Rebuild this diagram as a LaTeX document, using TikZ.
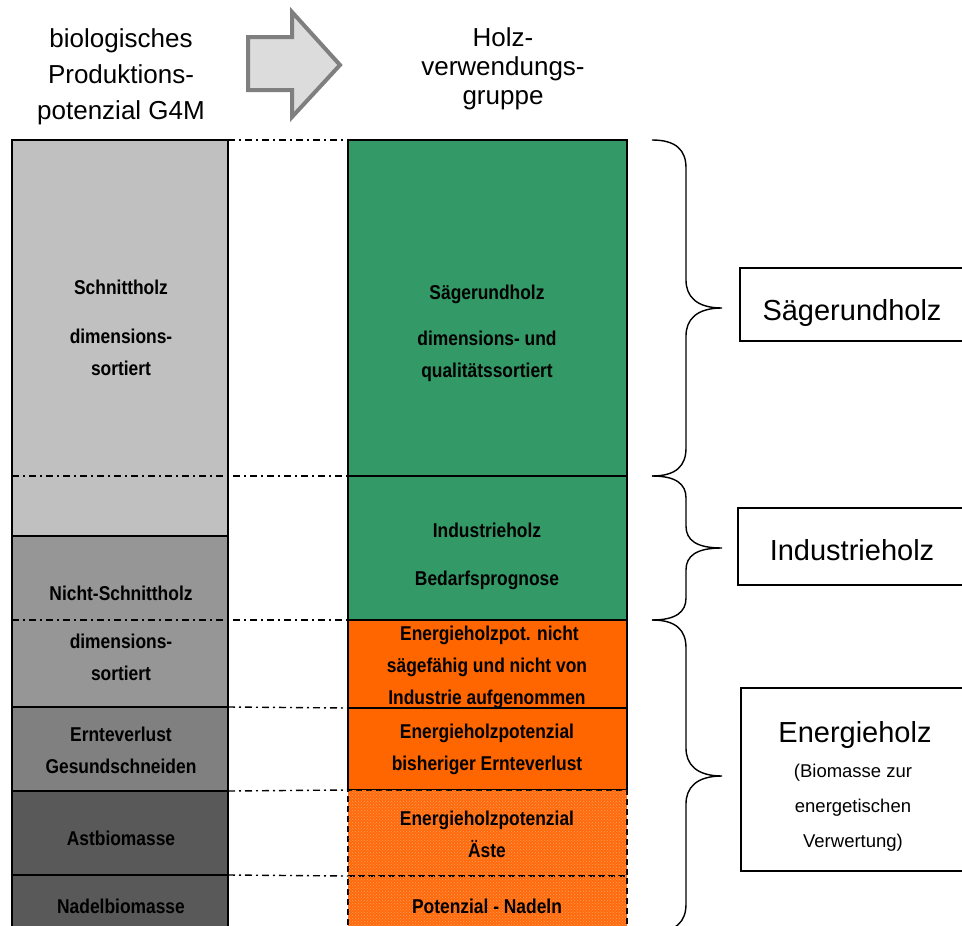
\documentclass[tikz,border=0pt]{standalone}
\usepackage{fontspec}
\setmainfont{Liberation Sans}
\newfontfamily\cellfont[FakeStretch=0.87]{Liberation Sans}
\usetikzlibrary{patterns}

\definecolor{schnittgrey}{HTML}{C0C0C0}
\definecolor{nichtgrey}{HTML}{969696}
\definecolor{verlustgrey}{HTML}{808080}
\definecolor{biogrey}{HTML}{595959}
\definecolor{saegegreen}{HTML}{339966}
\definecolor{energyorange}{HTML}{FF6600}
\definecolor{potorange}{HTML}{FF6A0C}
\definecolor{potdots}{HTML}{FFA060}
\definecolor{arrowfill}{HTML}{DCDCDC}
\definecolor{arrowline}{HTML}{7F7F7F}

\begin{document}
\begin{tikzpicture}[x=1pt,y=1pt,yscale=-1,
  lcell/.style={draw=black,line width=1.4pt,inner sep=0pt,outer sep=0pt,minimum width=216pt},
  rcell/.style={draw=black,line width=1.4pt,inner sep=0pt,outer sep=0pt,minimum width=279pt},
  potcell/.style={rcell,fill=potorange,line width=1.6pt,dash pattern=on 6pt off 4pt,postaction={pattern=crosshatch dots,pattern color=potdots}},
  celltext/.style={anchor=base,align=center,inner sep=0pt,font=\cellfont\bfseries\fontsize{20}{32}\selectfont},
  headtext/.style={anchor=base,align=center,inner sep=0pt},
  guide/.style={line width=1.4pt,dash pattern=on 7pt off 4pt on 2pt off 4pt},
  bracket/.style={line width=1.4pt},
  sidebox/.style={line width=1.4pt}]
\useasboundingbox (0,0) rectangle (962,926);
\clip (0,0) rectangle (962,926);

%Shape: Block Arrow
\draw [draw=arrowline,fill=arrowfill,line width=4pt,line join=miter] (248,37) -- (292,37) -- (292,12) -- (340,65) -- (292,117) -- (292,90) -- (248,90) -- cycle ;

% Text Node
\node [headtext,font=\fontsize{26}{36}\selectfont] (hdbio) at (121,119) {biologisches\\Produktions-\\potenzial G4M};
% Text Node
\node [headtext,font=\fontsize{26}{29}\selectfont] (hdholz) at (503,104) {Holz-\\verwendungs-\\gruppe};

%Shape: left column
\node [lcell,fill=schnittgrey,minimum height=396pt] (ls1) at (120,338) {};
\node [lcell,fill=nichtgrey,minimum height=171pt] (ls2) at (120,621.5) {};
\node [lcell,fill=verlustgrey,minimum height=84pt] (ls3) at (120,749) {};
\node [lcell,fill=biogrey,minimum height=84pt] (ls4) at (120,833) {};
\node [lcell,fill=biogrey,minimum height=70pt] (ls5) at (120,910) {};

%Shape: right column
\node [rcell,fill=saegegreen,minimum height=336pt] (rs1) at (487.5,308) {};
\node [rcell,fill=saegegreen,minimum height=144pt] (rs2) at (487.5,548) {};
\node [rcell,fill=energyorange,minimum height=88pt] (rs3) at (487.5,664) {};
\node [rcell,fill=energyorange,minimum height=82pt] (rs4) at (487.5,749) {};
\node [potcell,minimum height=86pt] (rs5) at (487.5,833) {};
\node [potcell,minimum height=69pt] (rs6) at (487.5,910.5) {};

%Straight Lines
\draw [guide] (ls1.north east) -- (rs1.north west) ;
\draw [guide] (ls1.west |- rs1.south) -- (rs1.south west) ;
\draw [guide] (ls2.west |- rs2.south) -- (rs2.south west) ;
\draw [guide] (ls3.north east) -- (rs4.north west) ;
\draw [guide] (ls4.north east) -- (rs5.north west) ;
\draw [guide] (ls5.north east) -- (rs6.north west) ;

% Text Node
\node [celltext] (tschnitt) at (121,375) {Schnittholz\\[17pt]dimensions-\\sortiert};
% Text Node
\node [celltext] (tnicht) at (121,600) {Nicht-Schnittholz};
% Text Node
\node [celltext] (tdim) at (121,680) {dimensions-\\sortiert};
% Text Node
\node [celltext] (tverlust) at (121,773) {Ernteverlust\\Gesundschneiden};
% Text Node
\node [celltext] (tast) at (121,845) {Astbiomasse};
% Text Node
\node [celltext] (tnadel) at (121,913) {Nadelbiomasse};

% Text Node
\node [celltext] (tsaege) at (487,377) {Sägerundholz\\[14pt]dimensions- und\\qualitätssortiert};
% Text Node
\node [celltext] (tind) at (487,585) {Industrieholz\\[16pt]Bedarfsprognose};
% Text Node
\node [celltext] (tenpot) at (487,704) {\ Energieholzpot. nicht\\sägefähig und nicht von\\Industrie aufgenommen};
% Text Node
\node [celltext] (tenverl) at (487,770) {Energieholzpotenzial\\bisheriger Ernteverlust};
% Text Node
\node [celltext] (taeste) at (487,857) {Energieholzpotenzial\\Äste};
% Text Node
\node [celltext] (tnadeln) at (487,913) {Potenzial - Nadeln};

%Curve Lines
\draw [bracket] (652,140) .. controls (676,140) and (686,150) .. (686,168) -- (686,280) .. controls (686,296) and (696,308) .. (722,308) .. controls (696,308) and (686,320) .. (686,336) -- (686,448) .. controls (686,466) and (676,476) .. (652,476) ;
%Curve Lines
\draw [bracket] (652,476) .. controls (676,476) and (686,484) .. (686,498) -- (686,526) .. controls (686,540) and (696,548) .. (722,548) .. controls (696,548) and (686,556) .. (686,570) -- (686,598) .. controls (686,612) and (676,620) .. (652,620) ;
%Curve Lines
\draw [bracket] (652,620) .. controls (676,620) and (686,630) .. (686,648) -- (686,748) .. controls (686,764) and (696,776) .. (722,776) .. controls (696,776) and (686,788) .. (686,804) -- (686,904) .. controls (686,922) and (676,932) .. (652,932) ;

%Shape: Rectangle
\draw [sidebox] (740,268) rectangle (964,341) ;
\draw [sidebox] (738,508) rectangle (964,585) ;
\draw [sidebox] (741,688) rectangle (964,871) ;

% Text Node
\node [headtext,font=\fontsize{29}{35}\selectfont] (tboxsaege) at (852,320) {Sägerundholz};
% Text Node
\node [headtext,font=\fontsize{29}{35}\selectfont] (tboxind) at (852,560) {Industrieholz};
% Text Node
\node [headtext,font=\fontsize{29}{35}\selectfont] (tboxen) at (855,742) {Energieholz};
% Text Node
\node [headtext,font=\fontsize{18.5}{35}\selectfont] (tboxsub) at (853,847) {(Biomasse zur\\energetischen\\Verwertung)};

\end{tikzpicture}
\end{document}
